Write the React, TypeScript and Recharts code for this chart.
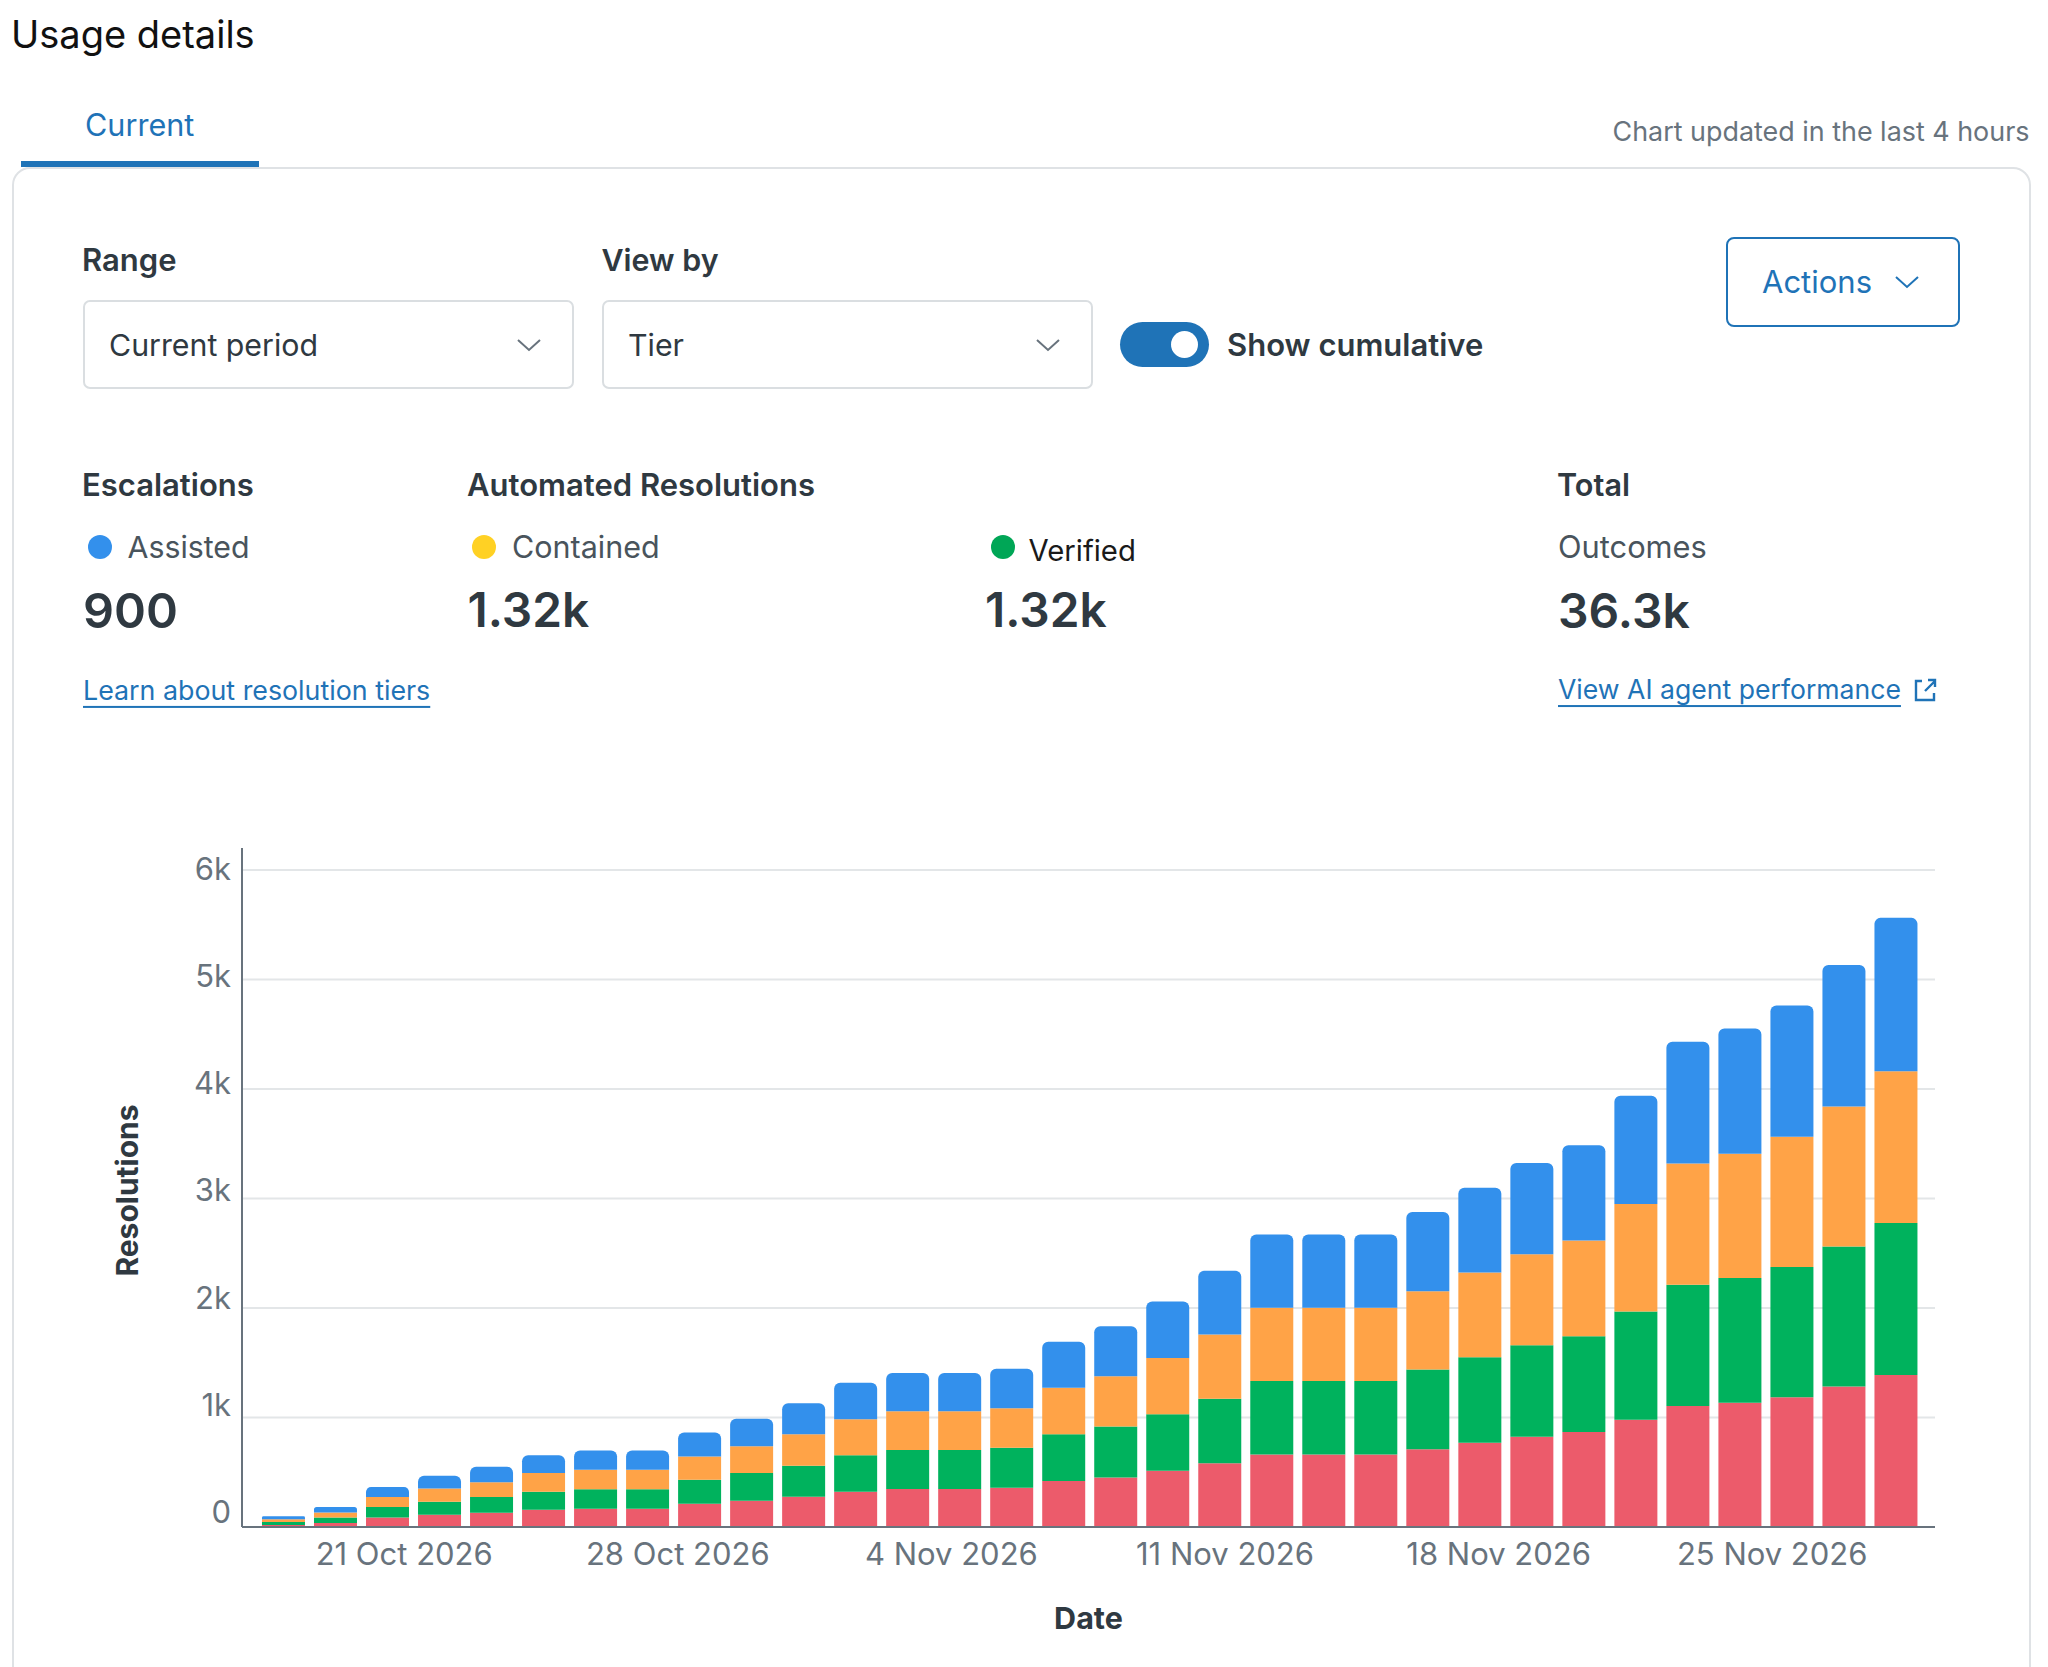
import React from 'react';
import { BarChart, Bar, XAxis, YAxis, CartesianGrid } from 'recharts';

const red = [18,37,86,111,129,157,166,166,212,240,277,323,348,348,358,420,451,513,583,661,661,661,711,770,824,867,979,1104,1135,1185,1283,1387];
const green = [28,49,96,120,145,166,179,179,219,252,283,332,354,354,365,427,466,517,587,672,672,672,727,781,836,874,988,1107,1139,1190,1278,1388];
const orange = [25,46,92,120,135,169,178,178,212,246,286,330,355,355,361,424,459,513,587,669,669,669,715,773,831,875,983,1108,1134,1189,1279,1387];
const blue = [27,50,92,117,142,163,175,175,219,250,283,332,350,350,362,420,458,517,583,668,668,668,723,774,832,870,987,1112,1143,1197,1292,1400];

const tickLabels = ['21 Oct 2026','28 Oct 2026','4 Nov 2026','11 Nov 2026','18 Nov 2026','25 Nov 2026'];
const tickSlots = [2.33,7.59,12.85,18.11,23.37,28.63];
const yTicks = [0,1000,2000,3000,4000,5000,6000];

const data = red.map((r,i)=>({slot:i,red:r,green:green[i],orange:orange[i],blue:blue[i]}));

const FONT = 'Inter, "Noto Sans", sans-serif';
const BLUE = '#1F73B7';
const DARK = '#2F3941';
const GRAY = '#68737D';

function T({x,y,size,weight=400,color=DARK,w,children,underline}:any){
  return <span style={{position:'absolute',left:x,top:y,transform:'translateY(-50%)',fontSize:size,fontWeight:weight,color,whiteSpace:'nowrap',lineHeight:1.2,fontFamily:FONT,letterSpacing:w||0,textDecoration:underline?'underline':'none',textUnderlineOffset:underline?6:undefined,textDecorationThickness:underline?2:undefined}}>{children}</span>;
}
function Box({x,y,w,h,border,radius,bg}:any){
  return <div style={{position:'absolute',left:x,top:y,width:w,height:h,boxSizing:'border-box',border,borderRadius:radius,background:bg}}/>;
}
function Chev({cx,cy,color}:any){
  return <svg style={{position:'absolute',left:cx-13,top:cy-8}} width={26} height={16}><path d="M2 3 L13 13 L24 3" fill="none" stroke={color} strokeWidth={2}/></svg>;
}
function Dot({cx,cy,color}:any){
  return <div style={{position:'absolute',left:cx-12,top:cy-12,width:24,height:24,borderRadius:'50%',background:color}}/>;
}
function YTick({x,y,payload}:any){
  const v=payload.value;
  const label=v===0?'0':`${v/1000}k`;
  return <text x={x} y={y-15.5+0.0023*v} textAnchor="end" dominantBaseline="central" fontSize={31} fill={GRAY} fontFamily={FONT}>{label}</text>;
}

export default function App(){
  return (
    <div style={{position:'absolute',left:0,top:0,width:2048,height:1667,overflow:'hidden',background:'#fff',fontFamily:FONT}}>
      <T x={11} y={35} size={38} color="#111">Usage details</T>
      <T x={85} y={125} size={30.6} color={BLUE}>Current</T>
      <T x={1612.5} y={131} size={26.9} color={GRAY}>Chart updated in the last 4 hours</T>

      <div style={{position:'absolute',left:12,top:167,width:2019,height:1600,boxSizing:'border-box',border:'2.5px solid #DFE2E5',borderRadius:18}}/>
      <div style={{position:'absolute',left:21,top:161,width:238,height:6,background:BLUE}}/>

      <T x={82} y={260} size={31} weight={600}>Range</T>
      <T x={601.5} y={260} size={30.4} weight={600}>View by</T>
      <Box x={82.5} y={300} w={491} h={89} border="2.5px solid #DADEE1" radius={7}/>
      <Box x={601.5} y={300} w={491} h={89} border="2.5px solid #DADEE1" radius={7}/>
      <T x={109} y={345} size={30.3}>Current period</T>
      <T x={628} y={345} size={30.3}>Tier</T>
      <Chev cx={529} cy={345} color={GRAY}/>
      <Chev cx={1048} cy={345} color={GRAY}/>

      <div style={{position:'absolute',left:1120,top:322,width:89,height:45,borderRadius:23,background:BLUE}}/>
      <div style={{position:'absolute',left:1171,top:331,width:27,height:27,borderRadius:'50%',background:'#fff'}}/>
      <T x={1227} y={345} size={31} weight={600}>Show cumulative</T>

      <Box x={1725.5} y={237} w={234.5} h={90} border={`2.5px solid ${BLUE}`} radius={8}/>
      <T x={1762} y={282} size={31} color={BLUE}>Actions</T>
      <Chev cx={1907} cy={282} color={BLUE}/>

      <T x={82} y={485} size={31} weight={600}>Escalations</T>
      <T x={467} y={485} size={31} weight={600}>Automated Resolutions</T>
      <T x={1557} y={485} size={30.6} weight={600}>Total</T>

      <Dot cx={100} cy={547} color="#3390EC"/>
      <T x={127.5} y={547} size={30.3} color="#49545C">Assisted</T>
      <Dot cx={484} cy={547} color="#FFD124"/>
      <T x={512} y={547} size={30.5} color="#49545C">Contained</T>
      <Dot cx={1003} cy={547} color="#00A656"/>
      <T x={1028.5} y={551} size={29.3} color="#1a1a1a">Verified</T>
      <T x={1558} y={547} size={30.8} color="#49545C">Outcomes</T>

      <T x={83} y={611} size={48.5} weight={600}>900</T>
      <T x={467.5} y={611} size={47.8} weight={600}>1.32k</T>
      <T x={985} y={611} size={47.8} weight={600}>1.32k</T>
      <T x={1558} y={611} size={48} weight={600}>36.3k</T>

      <T x={83} y={690} size={26.8} color={BLUE} underline>Learn about resolution tiers</T>
      <T x={1558} y={690} size={26.6} color={BLUE} underline>View AI agent performance</T>
      <svg style={{position:'absolute',left:1912,top:677}} width={26} height={26}>
        <path d="M10 4 H4 V23 H22 V16 M13 14 L23 4 M16 3 H23 V10" fill="none" stroke={BLUE} strokeWidth={2.4}/>
      </svg>

      <div style={{position:'absolute',left:90,top:830}}>
        <BarChart width={1860} height={837} data={data} margin={{top:18,right:15,left:0,bottom:0}} barCategoryGap={0}>
          <CartesianGrid vertical={false} syncWithTicks stroke="#E3E6E8" strokeWidth={2}/>
          <XAxis type="number" dataKey="slot" domain={[-0.788,31.76]} ticks={tickSlots} interval={0} height={140} allowDataOverflow
            tickFormatter={(v:number)=>tickLabels[tickSlots.indexOf(v)]} tickLine={false} axisLine={{stroke:GRAY,strokeWidth:2}}
            tick={{fontSize:31,fill:GRAY,fontFamily:FONT}} tickMargin={10}
            label={{value:'Date',position:'insideTop',offset:80,fontSize:30.5,fontWeight:700,fill:DARK,fontFamily:FONT}}/>
          <YAxis type="number" domain={[0,6200]} ticks={yTicks} interval={0} width={152} tickLine={false} tickMargin={5} axisLine={{stroke:GRAY,strokeWidth:2}}
            tick={<YTick/>}
            label={{value:'Resolutions',angle:-90,position:'insideLeft',offset:37,textAnchor:'middle',dy:3,fontSize:30,fontWeight:700,fill:DARK,fontFamily:FONT}}/>
          <Bar dataKey="red" stackId="a" fill="#EC5B6B" barSize={43} isAnimationActive={false}/>
          <Bar dataKey="green" stackId="a" fill="#00B25D" barSize={43} isAnimationActive={false}/>
          <Bar dataKey="orange" stackId="a" fill="#FFA347" barSize={43} isAnimationActive={false}/>
          <Bar dataKey="blue" stackId="a" fill="#3390EC" barSize={43} radius={[6,6,0,0]} isAnimationActive={false}/>
        </BarChart>
      </div>
    </div>
  );
}
